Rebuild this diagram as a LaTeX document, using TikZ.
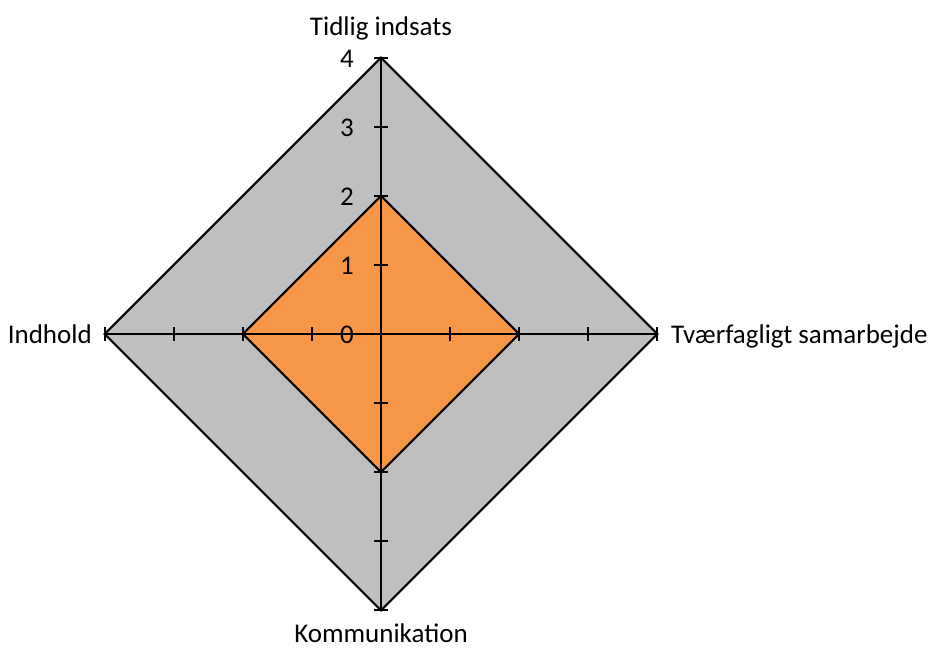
\documentclass[tikz,border=0pt]{standalone}
\usepackage{fontspec}
\setmainfont{Carlito}
\usetikzlibrary{calc}
\definecolor{gridgray}{HTML}{BFBFBF}
\definecolor{serorange}{HTML}{F79646}
\begin{document}
\begin{tikzpicture}[x=1pt,y=-1pt,
  axisline/.style={line width=2.1pt,draw=black},
  ticklbl/.style={font=\fontsize{27}{32}\selectfont,inner sep=0pt},
  catlbl/.style={font=\fontsize{27}{32}\selectfont,inner sep=0pt}]
\useasboundingbox (0,0) rectangle (930,648);
\def\u{69.1}
\coordinate (C) at (381,334);
\coordinate (T4) at (381,{334-4*\u});
\coordinate (B4) at (381,{334+4*\u});
\coordinate (L4) at ({381-4*\u},334);
\coordinate (R4) at ({381+4*\u},334);
\coordinate (T2) at (381,{334-2*\u});
\coordinate (B2) at (381,{334+2*\u});
\coordinate (L2) at ({381-2*\u},334);
\coordinate (R2) at ({381+2*\u},334);
% outer area
\filldraw[axisline,fill=gridgray,line join=miter] (T4) -- (R4) -- (B4) -- (L4) -- cycle;
% series
\filldraw[axisline,fill=serorange,line join=miter] (T2) -- (R2) -- (B2) -- (L2) -- cycle;
% axes
\draw[axisline] (T4) -- (B4);
\draw[axisline] (L4) -- (R4);
% ticks
\foreach \k in {-4,...,-1,1,2,3,4}{
  \draw[axisline] ($(C)+(-7,\k*\u)$) -- ($(C)+(7,\k*\u)$);
  \draw[axisline] ($(C)+(\k*\u,-7)$) -- ($(C)+(\k*\u,7)$);
}
% scale labels
\foreach \k in {0,...,4}{
  \node[ticklbl,anchor=center] (n\k) at (347,{334-\k*\u+1}) {\k};
}
% category labels
\node[catlbl,anchor=base] (tid) at (381,35) {Tidlig indsats};
\node[catlbl,anchor=base west] (tv) at (671,343) {Tværfagligt samarbejde};
\node[catlbl,anchor=base] (kom) at (381,642) {Kommunikation};
\node[catlbl,anchor=base east] (ind) at (92,343) {Indhold};
\end{tikzpicture}
\end{document}
